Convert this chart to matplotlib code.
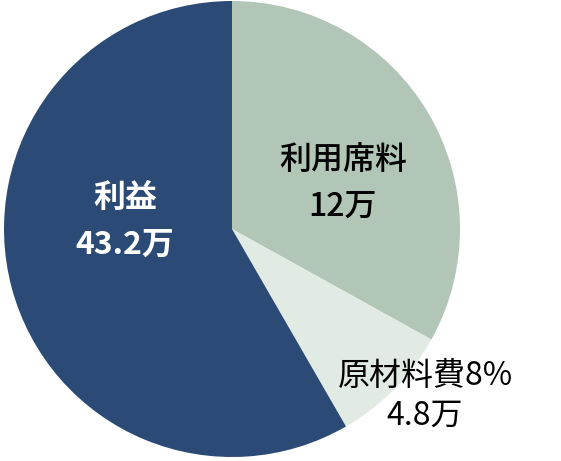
import matplotlib.pyplot as plt

plt.rcParams['font.family'] = ['Noto Sans CJK JP', 'DejaVu Sans']

# slice shares as drawn (degrees of the circle), clockwise from 12 o'clock
labels = ["利用席料\n12万", "原材料費8%\n4.8万", "利益\n43.2万"]
shares = [119, 31, 210]
colors = ["#B1C6B6", "#E1EAE3", "#2B4B76"]

W, H = 561, 461
fig = plt.figure(figsize=(W / 100, H / 100), dpi=100)
ax = fig.add_axes([0, 0, 1, 1])

cx, cy, r = 232, H - 229, 228
ax.pie(shares, colors=colors, startangle=90, counterclock=False,
       center=(cx, cy), radius=r, frame=True,
       wedgeprops=dict(linewidth=0))

ax.set_xlim(0, W)
ax.set_ylim(0, H)
ax.set_aspect("equal")
ax.axis("off")

# label positions in pixels from top-left
ax.text(343, H - 184, labels[0], ha="center", va="center", fontsize=23,
        color="black", fontweight="medium", linespacing=1.58)
ax.text(425, H - 396, labels[1], ha="center", va="center", fontsize=23,
        color="black", linespacing=1.3)
ax.text(125, H - 222, labels[2], ha="center", va="center", fontsize=23,
        color="white", fontweight="bold", linespacing=1.58)

fig.savefig("out.png", dpi=100)
